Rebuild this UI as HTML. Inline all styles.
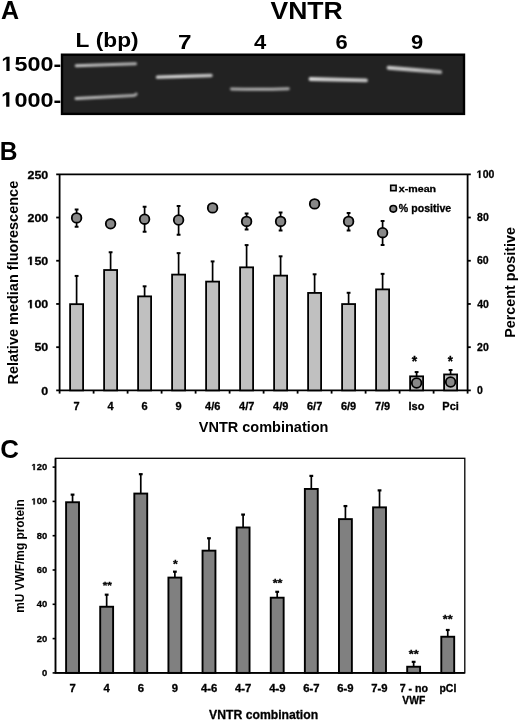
<!DOCTYPE html>
<html><head><meta charset="utf-8"><style>
html,body{margin:0;padding:0;background:#fff;}
svg{display:block;will-change:transform;}
text{font-family:"Liberation Sans",sans-serif;font-weight:bold;font-kerning:none;}
.sm{stroke:#000;stroke-width:0.3px;}
</style></head><body>
<svg width="520" height="721" viewBox="0 0 520 721">
<defs><filter id="blur" filterUnits="userSpaceOnUse" x="0" y="0" width="520" height="200"><feGaussianBlur stdDeviation="0.8"/></filter><filter id="blur2" filterUnits="userSpaceOnUse" x="0" y="0" width="520" height="200"><feGaussianBlur stdDeviation="1.1"/></filter></defs>
<rect width="520" height="721" fill="#fff"/>
<text transform="translate(1.08,19.10) scale(0.9625,1)" font-size="26.02" fill="#000" >A</text>
<text transform="translate(270.42,18.90) scale(1.0816,1)" font-size="24.56" fill="#000" >VNTR</text>
<text transform="translate(75.58,47.00) scale(1.1355,1)" font-size="20.00" fill="#000" >L (bp)</text>
<text transform="translate(177.96,49.00) scale(1.1771,1)" font-size="20.64" fill="#000" >7</text>
<text transform="translate(254.07,49.00) scale(1.0673,1)" font-size="20.64" fill="#000" >4</text>
<text transform="translate(335.40,49.00) scale(1.0624,1)" font-size="20.64" fill="#000" >6</text>
<text transform="translate(411.04,49.00) scale(1.0603,1)" font-size="20.64" fill="#000" >9</text>
<g transform="translate(1.59,71.10) scale(1.1124,1)" fill="#000"><text font-size="21.00" > 500-</text><path transform="translate(0.000,0) scale(0.01025,-0.01025)" d="M420 0 L420 1170 L115 959 L115 1180 L435 1409 L700 1409 L700 0 Z"/></g>
<g transform="translate(1.38,106.70) scale(1.1163,1)" fill="#000"><text font-size="21.00" > 000-</text><path transform="translate(0.000,0) scale(0.01025,-0.01025)" d="M420 0 L420 1170 L115 959 L115 1180 L435 1409 L700 1409 L700 0 Z"/></g>
<rect x="62" y="54.7" width="402" height="59.2" fill="#222" stroke="#000" stroke-width="2.4"/>
<defs><linearGradient id="g1" x1="0" y1="0" x2="1" y2="0"><stop offset="0" stop-color="#c4c4c4"/><stop offset="0.5" stop-color="#b8b8b8"/><stop offset="1" stop-color="#b0b0b0"/></linearGradient><linearGradient id="g2" x1="0" y1="0" x2="1" y2="0"><stop offset="0" stop-color="#bcbcbc"/><stop offset="0.6" stop-color="#b0b0b0"/><stop offset="1" stop-color="#a4a4a4"/></linearGradient><linearGradient id="g7" x1="0" y1="0" x2="1" y2="0"><stop offset="0" stop-color="#d0d0d0"/><stop offset="0.4" stop-color="#d4d4d4"/><stop offset="1" stop-color="#c0c0c0"/></linearGradient><linearGradient id="g4" x1="0" y1="0" x2="1" y2="0"><stop offset="0" stop-color="#a8a8a8"/><stop offset="0.5" stop-color="#b0b0b0"/><stop offset="1" stop-color="#a8a8a8"/></linearGradient><linearGradient id="g6" x1="0" y1="0" x2="1" y2="0"><stop offset="0" stop-color="#d8d8d8"/><stop offset="0.3" stop-color="#d0d0d0"/><stop offset="1" stop-color="#c4c4c4"/></linearGradient><linearGradient id="g9" x1="0" y1="0" x2="1" y2="0"><stop offset="0" stop-color="#c8c8c8"/><stop offset="0.5" stop-color="#c0c0c0"/><stop offset="1" stop-color="#a4a4a4"/></linearGradient></defs>
<path d="M76.2 65.8 L135.5 63.8" stroke="url(#g1)" stroke-width="3.0" stroke-linecap="round" fill="none" filter="url(#blur)"/>
<path d="M76 98.5 L133.5 95.6 Q135.5 95.2 136.2 94" stroke="url(#g2)" stroke-width="3.0" stroke-linecap="round" fill="none" filter="url(#blur)"/>
<path d="M157.5 77.1 L211 75.5" stroke="url(#g7)" stroke-width="3.4" stroke-linecap="round" fill="none" filter="url(#blur)"/>
<path d="M231.5 89 Q260 89.8 288.3 88.8" stroke="url(#g4)" stroke-width="3.0" stroke-linecap="round" fill="none" filter="url(#blur)"/>
<path d="M310.5 79 L366 80.4" stroke="url(#g6)" stroke-width="3.8" stroke-linecap="round" fill="none" filter="url(#blur2)"/>
<path d="M388.6 67.7 L440.2 72.1" stroke="url(#g9)" stroke-width="4.0" stroke-linecap="round" fill="none" filter="url(#blur2)"/>
<text transform="translate(-0.15,159.60) scale(0.9349,1)" font-size="26.31" fill="#000" >B</text>
<path d="M59.6 174.3 V390.4 M467.6 174.3 V390.4 M56.2 390.4 H470.8 M56.2 174.3 H470.8" stroke="#000" stroke-width="1.8" fill="none"/>
<path d="M56.2 347.18 H59.6" stroke="#000" stroke-width="1.8"/>
<path d="M56.2 303.96 H59.6" stroke="#000" stroke-width="1.8"/>
<path d="M56.2 260.74 H59.6" stroke="#000" stroke-width="1.8"/>
<path d="M56.2 217.52 H59.6" stroke="#000" stroke-width="1.8"/>
<path d="M467.6 347.18 H470.8" stroke="#000" stroke-width="1.8"/>
<path d="M467.6 303.96 H470.8" stroke="#000" stroke-width="1.8"/>
<path d="M467.6 260.74 H470.8" stroke="#000" stroke-width="1.8"/>
<path d="M467.6 217.52 H470.8" stroke="#000" stroke-width="1.8"/>
<path d="M59.60 390.4 V393.59999999999997" stroke="#000" stroke-width="1.8"/>
<path d="M93.60 390.4 V393.59999999999997" stroke="#000" stroke-width="1.8"/>
<path d="M127.60 390.4 V393.59999999999997" stroke="#000" stroke-width="1.8"/>
<path d="M161.60 390.4 V393.59999999999997" stroke="#000" stroke-width="1.8"/>
<path d="M195.60 390.4 V393.59999999999997" stroke="#000" stroke-width="1.8"/>
<path d="M229.60 390.4 V393.59999999999997" stroke="#000" stroke-width="1.8"/>
<path d="M263.60 390.4 V393.59999999999997" stroke="#000" stroke-width="1.8"/>
<path d="M297.60 390.4 V393.59999999999997" stroke="#000" stroke-width="1.8"/>
<path d="M331.60 390.4 V393.59999999999997" stroke="#000" stroke-width="1.8"/>
<path d="M365.60 390.4 V393.59999999999997" stroke="#000" stroke-width="1.8"/>
<path d="M399.60 390.4 V393.59999999999997" stroke="#000" stroke-width="1.8"/>
<path d="M433.60 390.4 V393.59999999999997" stroke="#000" stroke-width="1.8"/>
<path d="M467.60 390.4 V393.59999999999997" stroke="#000" stroke-width="1.8"/>
<text transform="translate(41.37,394.60) scale(1.0600,1)" font-size="11.77" fill="#000"  class="sm">0</text>
<text transform="translate(34.43,351.38) scale(1.0600,1)" font-size="11.77" fill="#000"  class="sm">50</text>
<g transform="translate(27.49,308.16) scale(1.0600,1)" fill="#000"><text font-size="11.77"  class="sm"> 00</text><path transform="translate(0.000,0) scale(0.00575,-0.00575)" d="M420 0 L420 1170 L115 959 L115 1180 L435 1409 L700 1409 L700 0 Z" stroke="#000" stroke-width="0.3" vector-effect="non-scaling-stroke"/></g>
<g transform="translate(27.49,264.94) scale(1.0600,1)" fill="#000"><text font-size="11.77"  class="sm"> 50</text><path transform="translate(0.000,0) scale(0.00575,-0.00575)" d="M420 0 L420 1170 L115 959 L115 1180 L435 1409 L700 1409 L700 0 Z" stroke="#000" stroke-width="0.3" vector-effect="non-scaling-stroke"/></g>
<text transform="translate(27.49,221.72) scale(1.0600,1)" font-size="11.77" fill="#000"  class="sm">200</text>
<text transform="translate(27.49,178.50) scale(1.0600,1)" font-size="11.77" fill="#000"  class="sm">250</text>
<text transform="translate(476.98,394.00) scale(0.9900,1)" font-size="10.61" fill="#000"  class="sm">0</text>
<text transform="translate(477.04,350.78) scale(0.9900,1)" font-size="10.61" fill="#000"  class="sm">20</text>
<text transform="translate(477.24,307.56) scale(0.9900,1)" font-size="10.61" fill="#000"  class="sm">40</text>
<text transform="translate(477.02,264.34) scale(0.9900,1)" font-size="10.61" fill="#000"  class="sm">60</text>
<text transform="translate(477.07,221.12) scale(0.9900,1)" font-size="10.61" fill="#000"  class="sm">80</text>
<g transform="translate(476.81,177.90) scale(0.9900,1)" fill="#000"><text font-size="10.61"  class="sm"> 00</text><path transform="translate(0.000,0) scale(0.00518,-0.00518)" d="M420 0 L420 1170 L115 959 L115 1180 L435 1409 L700 1409 L700 0 Z" stroke="#000" stroke-width="0.3" vector-effect="non-scaling-stroke"/></g>
<path d="M76.60 303.96 V275.93" stroke="#000" stroke-width="1.7" fill="none"/><path d="M74.70 275.93 H78.50" stroke="#000" stroke-width="2.0" fill="none"/>
<rect x="70.10" y="304.16" width="13.00" height="86.24" fill="#c0c0c0" stroke="#000" stroke-width="1.8"/>
<text transform="translate(73.55,409.70) scale(1.0500,1)" font-size="10.47" fill="#000"  class="sm">7</text>
<path d="M110.60 269.82 V252.25" stroke="#000" stroke-width="1.7" fill="none"/><path d="M108.70 252.25 H112.50" stroke="#000" stroke-width="2.0" fill="none"/>
<rect x="104.10" y="270.02" width="13.00" height="120.38" fill="#c0c0c0" stroke="#000" stroke-width="1.8"/>
<text transform="translate(107.49,409.70) scale(1.0500,1)" font-size="10.47" fill="#000"  class="sm">4</text>
<path d="M144.60 296.18 V286.31" stroke="#000" stroke-width="1.7" fill="none"/><path d="M142.70 286.31 H146.50" stroke="#000" stroke-width="2.0" fill="none"/>
<rect x="138.10" y="296.38" width="13.00" height="94.02" fill="#c0c0c0" stroke="#000" stroke-width="1.8"/>
<text transform="translate(141.54,409.70) scale(1.0500,1)" font-size="10.47" fill="#000"  class="sm">6</text>
<path d="M178.60 274.40 V253.11" stroke="#000" stroke-width="1.7" fill="none"/><path d="M176.70 253.11 H180.50" stroke="#000" stroke-width="2.0" fill="none"/>
<rect x="172.10" y="274.60" width="13.00" height="115.80" fill="#c0c0c0" stroke="#000" stroke-width="1.8"/>
<text transform="translate(175.56,409.70) scale(1.0500,1)" font-size="10.47" fill="#000"  class="sm">9</text>
<path d="M212.60 281.40 V261.41" stroke="#000" stroke-width="1.7" fill="none"/><path d="M210.70 261.41 H214.50" stroke="#000" stroke-width="2.0" fill="none"/>
<rect x="206.10" y="281.60" width="13.00" height="108.80" fill="#c0c0c0" stroke="#000" stroke-width="1.8"/>
<text transform="translate(205.08,409.70) scale(1.0500,1)" font-size="10.47" fill="#000"  class="sm">4/6</text>
<path d="M246.60 267.14 V245.08" stroke="#000" stroke-width="1.7" fill="none"/><path d="M244.70 245.08 H248.50" stroke="#000" stroke-width="2.0" fill="none"/>
<rect x="240.10" y="267.34" width="13.00" height="123.06" fill="#c0c0c0" stroke="#000" stroke-width="1.8"/>
<text transform="translate(239.12,409.70) scale(1.0500,1)" font-size="10.47" fill="#000"  class="sm">4/7</text>
<path d="M280.60 275.43 V256.31" stroke="#000" stroke-width="1.7" fill="none"/><path d="M278.70 256.31 H282.50" stroke="#000" stroke-width="2.0" fill="none"/>
<rect x="274.10" y="275.63" width="13.00" height="114.77" fill="#c0c0c0" stroke="#000" stroke-width="1.8"/>
<text transform="translate(273.08,409.70) scale(1.0500,1)" font-size="10.47" fill="#000"  class="sm">4/9</text>
<path d="M314.60 292.72 V274.29" stroke="#000" stroke-width="1.7" fill="none"/><path d="M312.70 274.29 H316.50" stroke="#000" stroke-width="2.0" fill="none"/>
<rect x="308.10" y="292.92" width="13.00" height="97.48" fill="#c0c0c0" stroke="#000" stroke-width="1.8"/>
<text transform="translate(307.00,409.70) scale(1.0500,1)" font-size="10.47" fill="#000"  class="sm">6/7</text>
<path d="M348.60 303.87 V292.79" stroke="#000" stroke-width="1.7" fill="none"/><path d="M346.70 292.79 H350.50" stroke="#000" stroke-width="2.0" fill="none"/>
<rect x="342.10" y="304.07" width="13.00" height="86.33" fill="#c0c0c0" stroke="#000" stroke-width="1.8"/>
<text transform="translate(340.96,409.70) scale(1.0500,1)" font-size="10.47" fill="#000"  class="sm">6/9</text>
<path d="M382.60 289.18 V273.86" stroke="#000" stroke-width="1.7" fill="none"/><path d="M380.70 273.86 H384.50" stroke="#000" stroke-width="2.0" fill="none"/>
<rect x="376.10" y="289.38" width="13.00" height="101.02" fill="#c0c0c0" stroke="#000" stroke-width="1.8"/>
<text transform="translate(374.93,409.70) scale(1.0500,1)" font-size="10.47" fill="#000"  class="sm">7/9</text>
<path d="M416.60 376.14 V372.06" stroke="#000" stroke-width="1.7" fill="none"/><path d="M414.70 372.06 H418.50" stroke="#000" stroke-width="2.0" fill="none"/>
<rect x="410.10" y="376.34" width="13.00" height="14.06" fill="#c0c0c0" stroke="#000" stroke-width="1.8"/>
<text transform="translate(408.51,409.70) scale(1.0500,1)" font-size="10.47" fill="#000"  class="sm">Iso</text>
<path d="M450.60 374.24 V369.98" stroke="#000" stroke-width="1.7" fill="none"/><path d="M448.70 369.98 H452.50" stroke="#000" stroke-width="2.0" fill="none"/>
<rect x="444.10" y="374.44" width="13.00" height="15.96" fill="#c0c0c0" stroke="#000" stroke-width="1.8"/>
<text transform="translate(442.37,409.70) scale(1.0500,1)" font-size="10.47" fill="#000"  class="sm">Pci</text>
<path d="M76.60 226.70 V209.40" stroke="#000" stroke-width="1.7" fill="none"/><path d="M74.70 226.70 H78.50 M74.70 209.40 H78.50" stroke="#000" stroke-width="2.0" fill="none"/>
<circle cx="76.60" cy="217.90" r="4.8" fill="#888" stroke="#000" stroke-width="1.8"/>
<circle cx="110.60" cy="223.80" r="4.8" fill="#888" stroke="#000" stroke-width="1.8"/>
<path d="M144.60 231.80 V206.70" stroke="#000" stroke-width="1.7" fill="none"/><path d="M142.70 231.80 H146.50 M142.70 206.70 H146.50" stroke="#000" stroke-width="2.0" fill="none"/>
<circle cx="144.60" cy="219.20" r="4.8" fill="#888" stroke="#000" stroke-width="1.8"/>
<path d="M178.60 234.80 V205.90" stroke="#000" stroke-width="1.7" fill="none"/><path d="M176.70 234.80 H180.50 M176.70 205.90 H180.50" stroke="#000" stroke-width="2.0" fill="none"/>
<circle cx="178.60" cy="220.00" r="4.8" fill="#888" stroke="#000" stroke-width="1.8"/>
<circle cx="212.60" cy="207.90" r="4.8" fill="#888" stroke="#000" stroke-width="1.8"/>
<path d="M246.60 229.40 V213.40" stroke="#000" stroke-width="1.7" fill="none"/><path d="M244.70 229.40 H248.50 M244.70 213.40 H248.50" stroke="#000" stroke-width="2.0" fill="none"/>
<circle cx="246.60" cy="221.40" r="4.8" fill="#888" stroke="#000" stroke-width="1.8"/>
<path d="M280.60 230.40 V212.60" stroke="#000" stroke-width="1.7" fill="none"/><path d="M278.70 230.40 H282.50 M278.70 212.60 H282.50" stroke="#000" stroke-width="2.0" fill="none"/>
<circle cx="280.60" cy="221.40" r="4.8" fill="#888" stroke="#000" stroke-width="1.8"/>
<circle cx="314.60" cy="203.90" r="4.8" fill="#888" stroke="#000" stroke-width="1.8"/>
<path d="M348.60 230.40 V212.90" stroke="#000" stroke-width="1.7" fill="none"/><path d="M346.70 230.40 H350.50 M346.70 212.90 H350.50" stroke="#000" stroke-width="2.0" fill="none"/>
<circle cx="348.60" cy="221.40" r="4.8" fill="#888" stroke="#000" stroke-width="1.8"/>
<path d="M382.60 245.00 V221.00" stroke="#000" stroke-width="1.7" fill="none"/><path d="M380.70 245.00 H384.50 M380.70 221.00 H384.50" stroke="#000" stroke-width="2.0" fill="none"/>
<circle cx="382.60" cy="232.70" r="4.8" fill="#888" stroke="#000" stroke-width="1.8"/>
<circle cx="416.60" cy="383.00" r="4.8" fill="#888" stroke="#000" stroke-width="1.8"/>
<circle cx="450.60" cy="382.00" r="4.8" fill="#888" stroke="#000" stroke-width="1.8"/>
<text transform="translate(411.76,366.30) scale(0.9840,1)" font-size="14.24" fill="#000"  class="sm">*</text>
<text transform="translate(447.76,366.30) scale(0.9293,1)" font-size="14.24" fill="#000"  class="sm">*</text>
<rect x="390.7" y="185.3" width="5.4" height="5.4" fill="#c8c8c8" stroke="#000" stroke-width="1.6"/>
<circle cx="393.3" cy="208.85" r="3.3" fill="#888" stroke="#000" stroke-width="1.6"/>
<text transform="translate(398.83,191.50) scale(1.0833,1)" font-size="9.84" fill="#000"  class="sm">x-mean</text>
<text transform="translate(398.84,212.30) scale(1.0371,1)" font-size="10.22" fill="#000"  class="sm">% positive</text>
<text transform="translate(198.80,432.40) scale(0.9412,1)" font-size="15.41" fill="#000" >VNTR combination</text>
<text transform="translate(17.95,384.57) rotate(-90) scale(0.9410,1)" font-size="15.41">Relative median fluorescence</text>
<text transform="translate(515.40,337.86) rotate(-90) scale(0.9322,1)" font-size="15.41">Percent positive</text>
<text transform="translate(0.34,457.60) scale(0.9718,1)" font-size="26.60" fill="#000" >C</text>
<rect x="55.5" y="458.3" width="409.30" height="214.60" fill="none" stroke="#000" stroke-width="1.3"/>
<path d="M55.5 458.3 V672.9 H464.8" stroke="#000" stroke-width="1.7" fill="none"/>
<path d="M52.6 672.90 H55.5" stroke="#000" stroke-width="1.6"/>
<path d="M52.6 638.60 H55.5" stroke="#000" stroke-width="1.6"/>
<path d="M52.6 604.30 H55.5" stroke="#000" stroke-width="1.6"/>
<path d="M52.6 570.00 H55.5" stroke="#000" stroke-width="1.6"/>
<path d="M52.6 535.70 H55.5" stroke="#000" stroke-width="1.6"/>
<path d="M52.6 501.40 H55.5" stroke="#000" stroke-width="1.6"/>
<path d="M52.6 467.10 H55.5" stroke="#000" stroke-width="1.6"/>
<text transform="translate(42.05,675.90) scale(1.0800,1)" font-size="8.72" fill="#000"  class="sm">0</text>
<text transform="translate(36.81,641.60) scale(1.0800,1)" font-size="8.72" fill="#000"  class="sm">20</text>
<text transform="translate(36.81,607.30) scale(1.0800,1)" font-size="8.72" fill="#000"  class="sm">40</text>
<text transform="translate(36.81,573.00) scale(1.0800,1)" font-size="8.72" fill="#000"  class="sm">60</text>
<text transform="translate(36.81,538.70) scale(1.0800,1)" font-size="8.72" fill="#000"  class="sm">80</text>
<g transform="translate(31.57,504.40) scale(1.0800,1)" fill="#000"><text font-size="8.72"  class="sm"> 00</text><path transform="translate(0.000,0) scale(0.00426,-0.00426)" d="M420 0 L420 1170 L115 959 L115 1180 L435 1409 L700 1409 L700 0 Z" stroke="#000" stroke-width="0.3" vector-effect="non-scaling-stroke"/></g>
<g transform="translate(31.57,470.10) scale(1.0800,1)" fill="#000"><text font-size="8.72"  class="sm"> 20</text><path transform="translate(0.000,0) scale(0.00426,-0.00426)" d="M420 0 L420 1170 L115 959 L115 1180 L435 1409 L700 1409 L700 0 Z" stroke="#000" stroke-width="0.3" vector-effect="non-scaling-stroke"/></g>
<path d="M72.55 502.05 V494.64" stroke="#000" stroke-width="1.7" fill="none"/><path d="M70.65 494.64 H74.45" stroke="#000" stroke-width="2.2" fill="none"/>
<rect x="66.10" y="502.25" width="12.90" height="170.65" fill="#808080" stroke="#000" stroke-width="1.9"/>
<text transform="translate(69.42,691.90) scale(1.0800,1)" font-size="10.47" fill="#000"  class="sm">7</text>
<path d="M106.66 606.54 V594.69" stroke="#000" stroke-width="1.7" fill="none"/><path d="M104.76 594.69 H108.56" stroke="#000" stroke-width="2.2" fill="none"/>
<rect x="100.21" y="606.74" width="12.90" height="66.16" fill="#808080" stroke="#000" stroke-width="1.9"/>
<text transform="translate(103.46,691.90) scale(1.0800,1)" font-size="10.47" fill="#000"  class="sm">4</text>
<path d="M140.77 493.36 V474.18" stroke="#000" stroke-width="1.7" fill="none"/><path d="M138.87 474.18 H142.67" stroke="#000" stroke-width="2.2" fill="none"/>
<rect x="134.32" y="493.56" width="12.90" height="179.34" fill="#808080" stroke="#000" stroke-width="1.9"/>
<text transform="translate(137.63,691.90) scale(1.0800,1)" font-size="10.47" fill="#000"  class="sm">6</text>
<path d="M174.88 577.39 V571.68" stroke="#000" stroke-width="1.7" fill="none"/><path d="M172.98 571.68 H176.78" stroke="#000" stroke-width="2.2" fill="none"/>
<rect x="168.43" y="577.59" width="12.90" height="95.31" fill="#808080" stroke="#000" stroke-width="1.9"/>
<text transform="translate(171.75,691.90) scale(1.0800,1)" font-size="10.47" fill="#000"  class="sm">9</text>
<path d="M208.99 550.46 V538.27" stroke="#000" stroke-width="1.7" fill="none"/><path d="M207.09 538.27 H210.89" stroke="#000" stroke-width="2.2" fill="none"/>
<rect x="202.54" y="550.66" width="12.90" height="122.24" fill="#808080" stroke="#000" stroke-width="1.9"/>
<text transform="translate(200.94,691.90) scale(1.0800,1)" font-size="10.47" fill="#000"  class="sm">4-6</text>
<path d="M243.10 527.28 V514.58" stroke="#000" stroke-width="1.7" fill="none"/><path d="M241.20 514.58 H245.00" stroke="#000" stroke-width="2.2" fill="none"/>
<rect x="236.65" y="527.48" width="12.90" height="145.42" fill="#808080" stroke="#000" stroke-width="1.9"/>
<text transform="translate(235.09,691.90) scale(1.0800,1)" font-size="10.47" fill="#000"  class="sm">4-7</text>
<path d="M277.20 597.50 V591.80" stroke="#000" stroke-width="1.7" fill="none"/><path d="M275.30 591.80 H279.10" stroke="#000" stroke-width="2.2" fill="none"/>
<rect x="270.75" y="597.70" width="12.90" height="75.20" fill="#808080" stroke="#000" stroke-width="1.9"/>
<text transform="translate(269.16,691.90) scale(1.0800,1)" font-size="10.47" fill="#000"  class="sm">4-9</text>
<path d="M311.31 488.75 V475.89" stroke="#000" stroke-width="1.7" fill="none"/><path d="M309.41 475.89 H313.21" stroke="#000" stroke-width="2.2" fill="none"/>
<rect x="304.86" y="488.95" width="12.90" height="183.95" fill="#808080" stroke="#000" stroke-width="1.9"/>
<text transform="translate(303.19,691.90) scale(1.0800,1)" font-size="10.47" fill="#000"  class="sm">6-7</text>
<path d="M345.42 518.92 V506.06" stroke="#000" stroke-width="1.7" fill="none"/><path d="M343.52 506.06 H347.32" stroke="#000" stroke-width="2.2" fill="none"/>
<rect x="338.97" y="519.12" width="12.90" height="153.78" fill="#808080" stroke="#000" stroke-width="1.9"/>
<text transform="translate(337.26,691.90) scale(1.0800,1)" font-size="10.47" fill="#000"  class="sm">6-9</text>
<path d="M379.53 507.16 V490.38" stroke="#000" stroke-width="1.7" fill="none"/><path d="M377.63 490.38 H381.43" stroke="#000" stroke-width="2.2" fill="none"/>
<rect x="373.08" y="507.36" width="12.90" height="165.54" fill="#808080" stroke="#000" stroke-width="1.9"/>
<text transform="translate(371.33,691.90) scale(1.0800,1)" font-size="10.47" fill="#000"  class="sm">7-9</text>
<path d="M413.64 666.53 V661.85" stroke="#000" stroke-width="1.7" fill="none"/><path d="M411.74 661.85 H415.54" stroke="#000" stroke-width="2.2" fill="none"/>
<rect x="407.19" y="666.73" width="12.90" height="6.17" fill="#808080" stroke="#000" stroke-width="1.9"/>
<text transform="translate(399.64,691.90) scale(1.0204,1)" font-size="10.47" fill="#000"  class="sm">7 - no</text>
<text transform="translate(402.33,703.60) scale(0.9604,1)" font-size="10.76" fill="#000"  class="sm">VWF</text>
<path d="M447.75 636.54 V629.98" stroke="#000" stroke-width="1.7" fill="none"/><path d="M445.85 629.98 H449.65" stroke="#000" stroke-width="2.2" fill="none"/>
<rect x="441.30" y="636.74" width="12.90" height="36.16" fill="#808080" stroke="#000" stroke-width="1.9"/>
<text transform="translate(439.41,691.90) scale(1.0021,1)" font-size="10.47" fill="#000"  class="sm">pCI</text>
<text transform="translate(102.67,587.74) scale(1.1946,1)" font-size="9.94" fill="#000"  class="sm">**</text>
<text transform="translate(173.06,567.98) scale(1.1071,1)" font-size="11.02" fill="#000"  class="sm">*</text>
<text transform="translate(272.66,586.81) scale(1.2073,1)" font-size="10.48" fill="#000"  class="sm">**</text>
<text transform="translate(408.66,657.50) scale(1.1891,1)" font-size="10.75" fill="#000"  class="sm">**</text>
<text transform="translate(442.76,623.43) scale(1.2391,1)" font-size="10.21" fill="#000"  class="sm">**</text>
<text transform="translate(209.12,718.80) scale(0.9540,1)" font-size="12.79" fill="#000"  class="sm">VNTR combination</text>
<text transform="translate(24.00,612.68) rotate(-90) scale(0.9280,1)" font-size="12.79">mU VWF/mg protein</text>
</svg>
</body></html>
